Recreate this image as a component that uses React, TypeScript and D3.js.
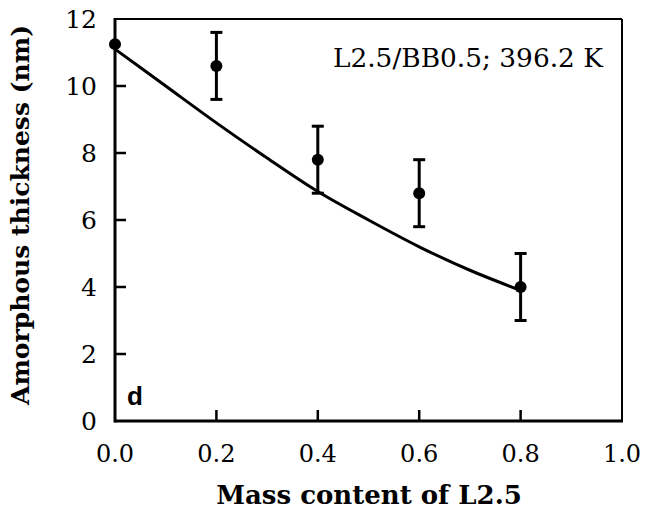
import React from "react";
import * as d3 from "d3";

const massX = [0.0, 0.2, 0.4, 0.6, 0.8];
const thickness = [11.25, 10.6, 7.8, 6.8, 4.0];
const errors = [0, 1.0, 1.0, 1.0, 1.0];

const fitX = [0.0, 0.1, 0.2, 0.3, 0.4, 0.5, 0.6, 0.7, 0.8];
const fitY = [11.1, 10.0, 8.9, 7.85, 6.85, 6.0, 5.2, 4.5, 3.9];

const xTicks = [0.0, 0.2, 0.4, 0.6, 0.8, 1.0];
const yTicks = [0, 2, 4, 6, 8, 10, 12];

const W = 645;
const H = 511;
const M = { left: 115, right: 622, top: 19, bottom: 421 };

export default function App() {
  const x = d3.scaleLinear().domain([0, 1]).range([M.left, M.right]);
  const y = d3.scaleLinear().domain([0, 12]).range([M.bottom, M.top]);
  const line = d3
    .line<number>()
    .x((_, i) => x(fitX[i]))
    .y((d) => y(d))
    .curve(d3.curveMonotoneX);
  const serif = "'DejaVu Serif', serif";
  return (
    <svg
      width={W}
      height={H}
      style={{ position: "absolute", left: 0, top: 0, background: "#fff" }}
    >
      <rect x={0} y={0} width={W} height={H} fill="#fff" />
      {/* frame */}
      <line x1={M.left} x2={M.right} y1={M.top} y2={M.top} stroke="#000" strokeWidth={2} />
      <line x1={M.right} x2={M.right} y1={M.top} y2={M.bottom} stroke="#000" strokeWidth={2} />
      <line x1={M.left} x2={M.left} y1={M.top - 1} y2={M.bottom + 1.5} stroke="#000" strokeWidth={3} />
      <line x1={M.left} x2={M.right + 1} y1={M.bottom} y2={M.bottom} stroke="#000" strokeWidth={3} />
      {/* y ticks */}
      {yTicks.map((t) => (
        <g key={"y" + t}>
          {t > 0 && t < 12 && (
            <line x1={M.left} x2={M.left + 11} y1={y(t)} y2={y(t)} stroke="#000" strokeWidth={2.5} />
          )}
          <text
            x={M.left - 18}
            y={y(t)}
            dy="0.36em"
            textAnchor="end"
            fontFamily={serif}
            fontSize={25}
            fill="#000"
          >
            {t}
          </text>
        </g>
      ))}
      {/* x ticks */}
      {xTicks.map((t) => (
        <g key={"x" + t}>
          {t > 0 && t < 1 && (
            <line x1={x(t)} x2={x(t)} y1={M.bottom} y2={M.bottom - 11} stroke="#000" strokeWidth={2.5} />
          )}
          <text
            x={x(t)}
            y={462}
            textAnchor="middle"
            fontFamily={serif}
            fontSize={24}
            fill="#000"
          >
            {t.toFixed(1)}
          </text>
        </g>
      ))}
      {/* fit curve */}
      <path d={line(fitY) || ""} fill="none" stroke="#000" strokeWidth={3} />
      {/* error bars and points */}
      {massX.map((mx, i) => (
        <g key={"p" + i}>
          {errors[i] > 0 && (
            <g stroke="#000" strokeWidth={3}>
              <line x1={x(mx)} x2={x(mx)} y1={y(thickness[i] - errors[i])} y2={y(thickness[i] + errors[i])} />
              <line x1={x(mx) - 6} x2={x(mx) + 6} y1={y(thickness[i] + errors[i])} y2={y(thickness[i] + errors[i])} />
              <line x1={x(mx) - 6} x2={x(mx) + 6} y1={y(thickness[i] - errors[i])} y2={y(thickness[i] - errors[i])} />
            </g>
          )}
          <circle cx={x(mx)} cy={y(thickness[i])} r={6} fill="#000" />
        </g>
      ))}
      {/* annotation */}
      <text x={603} y={67} textAnchor="end" fontFamily={serif} fontSize={26.4} fill="#000">
        L2.5/BB0.5; 396.2 K
      </text>
      <text x={127} y={405} fontFamily="'Liberation Sans', Arial, sans-serif" fontWeight="bold" fontSize={26} fill="#000">
        d
      </text>
      {/* axis titles */}
      <text
        x={369}
        y={504}
        textAnchor="middle"
        fontFamily={serif}
        fontWeight="bold"
        fontSize={26}
        fill="#000"
      >
        Mass content of L2.5
      </text>
      <text
        transform={`translate(29, 215) rotate(-90)`}
        textAnchor="middle"
        fontFamily={serif}
        fontWeight="bold"
        fontSize={25}
        fill="#000"
      >
        Amorphous thickness (nm)
      </text>
    </svg>
  );
}
